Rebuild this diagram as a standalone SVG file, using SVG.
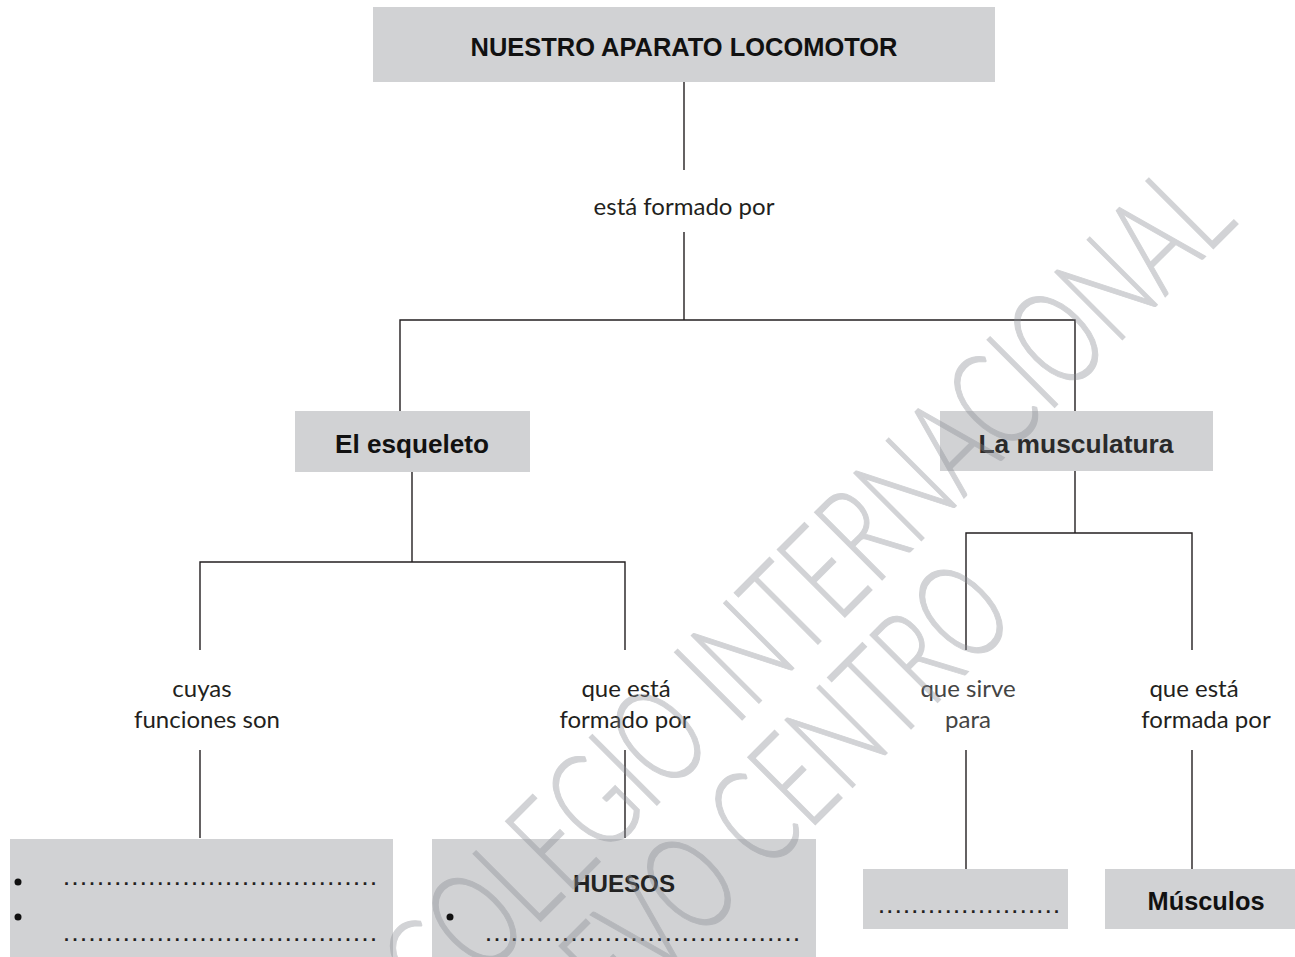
<svg xmlns="http://www.w3.org/2000/svg" width="1295" height="957" viewBox="0 0 1295 957">
  <style>
    .box { fill: #d1d2d4; }
    .conn { stroke: #231f20; stroke-width: 1.4; fill: none; }
    .title { font-family: "Liberation Sans", Arial, sans-serif; font-weight: bold; fill: #111; text-anchor: middle; }
    .lbl { font-family: Lato, "Open Sans", sans-serif; font-weight: 400; font-size: 24px; fill: #231f20; text-anchor: middle; }
    .dots { font-family: "Liberation Sans", Arial, sans-serif; font-weight: bold; font-size: 18px; fill: #231f20; }
    .bullet { fill: #111; }
    .wm { font-family: Lato, "Open Sans", sans-serif; font-weight: 300; font-size: 135px; fill: #8a8d94; stroke: #8a8d94; stroke-width: 1.2; opacity: 0.38; }
  </style>

  <g id="connectors">
    <line class="conn" x1="684" y1="82" x2="684" y2="170"/>
    <line class="conn" x1="684" y1="232" x2="684" y2="320"/>
    <polyline class="conn" points="400,412 400,320 1075,320 1075,412"/>
    <line class="conn" x1="412" y1="472" x2="412" y2="562"/>
    <polyline class="conn" points="200,650 200,562 625,562 625,650"/>
    <line class="conn" x1="1075" y1="471" x2="1075" y2="533"/>
    <polyline class="conn" points="966,650 966,533 1192,533 1192,650"/>
    <line class="conn" x1="200" y1="750" x2="200" y2="838"/>
    <line class="conn" x1="625" y1="750" x2="625" y2="838"/>
    <line class="conn" x1="966" y1="750" x2="966" y2="869"/>
    <line class="conn" x1="1192" y1="750" x2="1192" y2="869"/>
  </g>

  <g id="n-title">
    <rect class="box" x="373" y="7" width="622" height="75"/>
    <text class="title" x="684" y="56" font-size="26" textLength="427" lengthAdjust="spacingAndGlyphs">NUESTRO APARATO LOCOMOTOR</text>
  </g>

  <g id="n-formado">
    <text class="lbl" x="684" y="215" font-size="25">está formado por</text>
  </g>

  <g id="n-esqueleto">
    <rect class="box" x="295" y="411" width="235" height="61"/>
    <text class="title" x="412" y="453" font-size="26" textLength="154" lengthAdjust="spacingAndGlyphs">El esqueleto</text>
  </g>

  <g id="n-musculatura">
    <rect class="box" x="940" y="411" width="273" height="60"/>
    <text class="title" x="1076" y="453" font-size="26" textLength="195" lengthAdjust="spacingAndGlyphs" style="fill:#2a2a2a">La musculatura</text>
  </g>

  <g id="n-cuyas">
    <text class="lbl" x="202" y="697">cuyas</text>
    <text class="lbl" x="207" y="728">funciones son</text>
  </g>

  <g id="n-queesta1">
    <text class="lbl" x="626" y="697">que está</text>
    <text class="lbl" x="625" y="728">formado por</text>
  </g>

  <g id="n-sirve">
    <text class="lbl" x="968" y="697" style="fill:#444">que sirve</text>
    <text class="lbl" x="968" y="728" style="fill:#444">para</text>
  </g>

  <g id="n-queesta2">
    <text class="lbl" x="1194" y="697">que está</text>
    <text class="lbl" x="1206" y="728">formada por</text>
  </g>

  <g id="n-funciones">
    <rect class="box" x="10" y="839" width="383" height="118"/>
    <circle class="bullet" cx="18" cy="882" r="3.5"/>
    <text class="dots" x="64" y="885" textLength="312" lengthAdjust="spacing">.....................................</text>
    <circle class="bullet" cx="18" cy="917" r="3.5"/>
    <text class="dots" x="64" y="941" textLength="312" lengthAdjust="spacing">.....................................</text>
  </g>

  <g id="n-huesos">
    <rect class="box" x="432" y="839" width="384" height="118"/>
    <text class="title" x="624" y="892" font-size="24" textLength="102" lengthAdjust="spacingAndGlyphs" style="fill:#222">HUESOS</text>
    <circle class="bullet" cx="450" cy="917" r="3.5"/>
    <text class="dots" x="486" y="941" textLength="313" lengthAdjust="spacing">.....................................</text>
  </g>

  <g id="n-sirve-box">
    <rect class="box" x="863" y="869" width="205" height="60"/>
    <text class="dots" x="879" y="913" textLength="180" lengthAdjust="spacing">......................</text>
  </g>

  <g id="n-musculos">
    <rect class="box" x="1105" y="869" width="190" height="60"/>
    <text class="title" x="1206" y="910" font-size="25" textLength="117" lengthAdjust="spacingAndGlyphs">Músculos</text>
  </g>

  <g id="watermark">
    <text class="wm" x="440" y="1022" transform="rotate(-45 440 1022)" textLength="1130" lengthAdjust="spacingAndGlyphs">COLEGIO INTERNACIONAL</text>
    <text class="wm" x="525" y="1115" transform="rotate(-45 525 1115)" textLength="700" lengthAdjust="spacingAndGlyphs">NUEVO CENTRO</text>
  </g>
</svg>
